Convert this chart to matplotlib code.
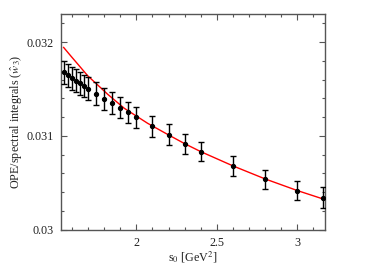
import matplotlib
matplotlib.use("Agg")
import matplotlib.pyplot as plt
from matplotlib.ticker import MultipleLocator, FixedLocator, FuncFormatter

plt.rcParams['font.family'] = ['Liberation Serif', 'DejaVu Serif']
plt.rcParams['mathtext.fontset'] = 'stix'

# data points (s0, ratio, error)
s0 = [1.55, 1.575, 1.60, 1.625, 1.65, 1.675, 1.70, 1.75, 1.80, 1.85, 1.90, 1.95,
      2.0, 2.1, 2.2, 2.3, 2.4, 2.6, 2.8, 3.0, 3.157]
ratio = [0.031678, 0.031646, 0.031617, 0.031589, 0.031560, 0.031532, 0.031503,
         0.031450, 0.031397, 0.031348, 0.031301, 0.031252, 0.031202, 0.031103,
         0.031011, 0.030918, 0.030833, 0.030681, 0.030539, 0.030418, 0.030344]
err = [0.000125, 0.000124, 0.000123, 0.000122, 0.000122, 0.000121, 0.000121,
       0.000122, 0.000119, 0.000117, 0.000114, 0.000112, 0.000112, 0.000112,
       0.000112, 0.000105, 0.000103, 0.000103, 0.000100, 0.000103, 0.000110]

# red curve
curve_s = [1.548, 1.594, 1.635, 1.698, 1.76, 1.822, 1.925, 2.07, 2.2, 2.3, 2.4,
           2.6, 2.8, 3.0, 3.157]
curve_v = [0.031944, 0.031850, 0.031768, 0.031641, 0.031543, 0.031444, 0.031295,
           0.031135, 0.031011, 0.030918, 0.030833, 0.030681, 0.030542, 0.030418,
           0.030330]

xticks = [2, 2.5, 3]
yticks = [0.030, 0.031, 0.032]

fig = plt.figure(figsize=(3.82, 2.70), dpi=100)
ax = fig.add_axes([0.159, 0.149, 0.691, 0.799])

ax.plot(curve_s, curve_v, color='red', lw=1.0, zorder=2)
ax.errorbar(s0, ratio, yerr=err, fmt='o', color='black', ms=2.8, ecolor='black',
            elinewidth=1.0, capsize=2.0, capthick=1.0, zorder=3)

ax.set_xlim(1.53, 3.17)
ax.set_ylim(0.030, 0.0323)

ax.xaxis.set_major_locator(FixedLocator(xticks))
ax.xaxis.set_minor_locator(MultipleLocator(0.1))
ax.yaxis.set_major_locator(FixedLocator(yticks))
ax.yaxis.set_minor_locator(MultipleLocator(0.0002))
fmt = FuncFormatter(lambda v, p: ('%g' % round(v, 6)))
ax.xaxis.set_major_formatter(fmt)
ax.yaxis.set_major_formatter(fmt)

frame_col = '#555555'
for sp in ax.spines.values():
    sp.set_color(frame_col)
    sp.set_linewidth(1.0)
ax.tick_params(which='both', direction='in', top=True, right=True,
               color=frame_col, labelsize=8.7, labelcolor='#222222')
ax.tick_params(which='major', length=4.5, width=0.8, pad=5)
ax.tick_params(which='minor', length=2.5, width=0.8)

ax.set_xlabel(r's$_0$ [GeV$^2$]', fontsize=8.7, labelpad=0.5, color='#222222')
ax.set_ylabel(r'OPE/spectral integrals ($\hat{w}_3$)', fontsize=8.7, labelpad=1.5,
              color='#222222')

fig.savefig('out.png', dpi=100)
